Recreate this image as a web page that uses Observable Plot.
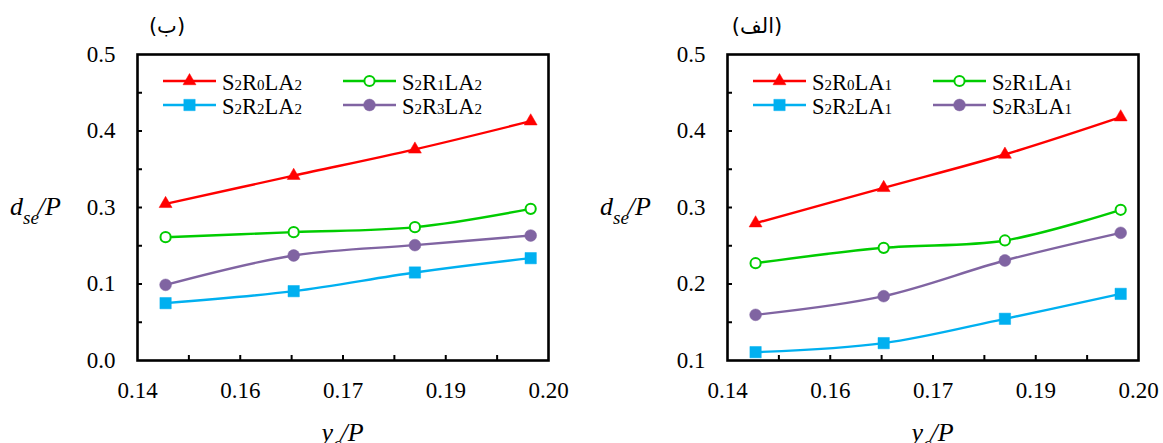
<!DOCTYPE html>
<html><head><meta charset="utf-8">
<script src="https://cdn.jsdelivr.net/npm/d3@7"></script>
<script src="https://cdn.jsdelivr.net/npm/@observablehq/plot@0.6"></script>
<style>
body{margin:0;background:#fff;}
#wrap{display:flex;width:1163px;height:443px;overflow:hidden;background:#fff;}
#wrap svg{overflow:visible;font-family:'Liberation Serif','Times New Roman',serif;}
#wrap svg text{font-family:'Liberation Serif','Times New Roman',serif;}
#wrap svg text.ptitle{font-family:'DejaVu Sans',sans-serif;}
</style></head><body><div id="wrap"></div>
<script>
// ---- data ----
const xValues = [0.1441, 0.1628, 0.1805, 0.1974];
const seriesKeys = ["R0", "R1", "R2", "R3"];
// panel (ب) : LA2
const la2_R0 = [0.256, 0.302, 0.345, 0.391];
const la2_R1 = [0.2015, 0.2097, 0.2179, 0.2478];
const la2_R2 = [0.0937, 0.1133, 0.1438, 0.1672];
const la2_R3 = [0.1236, 0.1716, 0.1885, 0.2042];
// panel (الف) : LA1
const la1_R0 = [0.2795, 0.3257, 0.3693, 0.4181];
const la1_R1 = [0.2272, 0.2473, 0.2569, 0.2970];
const la1_R2 = [0.1109, 0.1227, 0.1545, 0.1871];
const la1_R3 = [0.1597, 0.1841, 0.2307, 0.2669];
// ticks
const xMajorTicks = [0.14, 0.155, 0.17, 0.185, 0.20];
const xTickLabels = ["0.14", "0.16", "0.17", "0.19", "0.20"];
const xAllTicks = [0.1475, 0.155, 0.1625, 0.17, 0.1775, 0.185, 0.1925];
const yTicksB = [0, 0.125, 0.25, 0.375, 0.5];
const yTickLabelsB = ["0.0", "0.1", "0.3", "0.4", "0.5"];
const yAllTicksB = [0.0625, 0.125, 0.1875, 0.25, 0.3125, 0.375, 0.4375];
const yTicksA = [0.1, 0.2, 0.3, 0.4, 0.5];
const yTickLabelsA = ["0.1", "0.2", "0.3", "0.4", "0.5"];
const yAllTicksA = [0.15, 0.2, 0.25, 0.3, 0.35, 0.4, 0.45];
// series styles
const colors = ["#ff0000", "#00cc00", "#00b0f0", "#8064a2"];
const fills = ["#ff0000", "#ffffff", "#00b0f0", "#8064a2"];
const symbols = ["triangle", "circle", "square", "circle"];
const radii = [4.8, 5.1, 6.4, 5.9];
const rDigits = ["0", "1", "2", "3"];

function panel(opts) {
  const {width, marginLeft, marginRight, series, yDomain, yTicks, yLabels, yAll, laDigit, title} = opts;
  const marginTop = 54, marginBottom = 83, height = 443;
  const pw = width - marginLeft - marginRight, ph = height - marginTop - marginBottom;
  const marks = [
    Plot.axisX(xMajorTicks, {tickSize: 0, tickPadding: 21, fontSize: 23, tickFormat: d => xTickLabels[xMajorTicks.indexOf(d)], label: null}),
    Plot.axisY(yTicks, {tickSize: 0, tickPadding: 22, fontSize: 23, tickFormat: d => yLabels[yTicks.indexOf(d)], label: null}),
    Plot.ruleX(xAllTicks, {x: d => d, insetTop: ph - 5, stroke: "black", strokeWidth: 2}),
    Plot.ruleY(yAll, {y: d => d, insetRight: pw - 5, stroke: "black", strokeWidth: 2})
  ];
  series.forEach((vals, i) => {
    const rows = xValues.map((x, j) => ({x, y: vals[j]}));
    marks.push(Plot.line(rows, {x: "x", y: "y", stroke: colors[i], strokeWidth: 2.4, curve: "catmull-rom"}));
    marks.push(Plot.dot(rows, {x: "x", y: "y", symbol: symbols[i], r: radii[i], fill: fills[i], stroke: colors[i], strokeWidth: i === 1 ? 2 : 0.5, fillOpacity: 1}));
  });
  marks.push(Plot.frame({stroke: "black", strokeWidth: 2.6}));
  const svg = Plot.plot({
    width, height, marginLeft, marginRight, marginTop, marginBottom,
    style: "font-size:23px;color:black;background:white;",
    x: {domain: [0.14, 0.20]},
    y: {domain: yDomain},
    marks
  });
  const s = d3.select(svg);
  const g = s.append("g").attr("fill", "black").attr("text-anchor", "start");
  // legend
  const cols = [marginLeft + 26, marginLeft + 206];
  const rowsY = [81, 105];
  seriesKeys.forEach((k, i) => {
    const cx = cols[i % 2], cy = rowsY[Math.floor(i / 2)];
    g.append("line").attr("x1", cx).attr("x2", cx + 53).attr("y1", cy).attr("y2", cy)
      .attr("stroke", colors[i]).attr("stroke-width", 2.4);
    const sym = {triangle: d3.symbolTriangle, circle: d3.symbolCircle, square: d3.symbolSquare}[symbols[i]];
    g.append("path").attr("d", d3.symbol(sym, radii[i] * radii[i] * Math.PI)())
      .attr("transform", `translate(${cx + 26.5},${cy})`)
      .attr("fill", fills[i]).attr("stroke", colors[i]).attr("stroke-width", i === 1 ? 2 : 0.5);
    const t = g.append("text").attr("x", cx + 59).attr("y", cy + 9).attr("font-size", 22.5).attr("text-anchor", "start");
    t.append("tspan").text("S");
    t.append("tspan").attr("font-size", 15).text("2");
    t.append("tspan").text("R");
    t.append("tspan").attr("font-size", 15).text(rDigits[i]);
    t.append("tspan").text("LA");
    t.append("tspan").attr("font-size", 15).text(laDigit);
  });
  // y axis title
  const yt = g.append("text").attr("x", marginLeft - 127).attr("y", 215).attr("font-size", 26)
    .attr("font-style", "italic").attr("text-anchor", "start");
  yt.append("tspan").text("d");
  yt.append("tspan").attr("font-size", 19).attr("dy", 9).text("se");
  yt.append("tspan").attr("dy", -9).attr("dx", -1).text("/P");
  // x axis title
  const xt = g.append("text").attr("x", marginLeft + pw / 2).attr("y", 441).attr("font-size", 26)
    .attr("font-style", "italic").attr("text-anchor", "middle");
  xt.append("tspan").text("y");
  xt.append("tspan").attr("font-size", 19).attr("dy", 9).text("c");
  xt.append("tspan").attr("dy", -9).attr("dx", -1).text("/P");
  // panel title
  g.append("text").attr("class", "ptitle").attr("x", marginLeft + 30).attr("y", 33).attr("text-anchor", "middle")
    .attr("font-size", 21).text(title);
  return svg;
}

const wrap = document.getElementById("wrap");
wrap.append(panel({
  width: 580, marginLeft: 137, marginRight: 32,
  series: [la2_R0, la2_R1, la2_R2, la2_R3],
  yDomain: [0, 0.5], yTicks: yTicksB, yLabels: yTickLabelsB, yAll: yAllTicksB,
  laDigit: "2", title: "(ب)"
}));
wrap.append(panel({
  width: 583, marginLeft: 147, marginRight: 25,
  series: [la1_R0, la1_R1, la1_R2, la1_R3],
  yDomain: [0.1, 0.5], yTicks: yTicksA, yLabels: yTickLabelsA, yAll: yAllTicksA,
  laDigit: "1", title: "(الف)"
}));
</script></body></html>
